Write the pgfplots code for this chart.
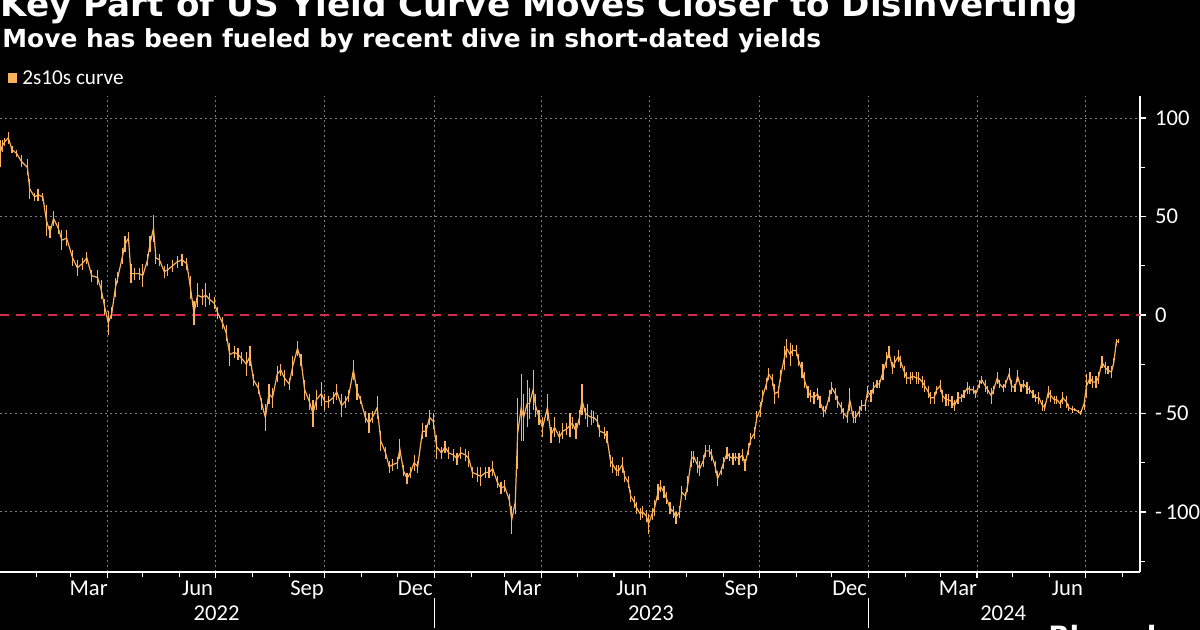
\documentclass[border=0pt]{standalone}
\usepackage{fontspec}
\setmainfont{Carlito}
\newfontfamily\headfont{DejaVu Sans}
\usepackage{pgfplots}
\usepackage{pgfplotstable}
\pgfplotsset{compat=1.18}

\definecolor{curve}{RGB}{252,178,92}
\definecolor{gridc}{RGB}{125,125,125}
\definecolor{zeroc}{RGB}{215,45,70}

% d = days since 1 Jan 2022, v = 2s10s spread (bp), e = half of the day's range
\pgfplotstableread{
d v e
0 82 7
2 86 3
4 88 2
7 90 3
10 84 2
14 82 2
18 78 3
23 75 4
25 64 5
29 60 2
32 61 3
36 60 2
39 48 8
42 42 3
45 49 4
49 44 3
52 38 5
56 39 4
61 29 4
65 24 4
69 26 3
73 29 3
77 20 3
82 19 4
85 13 5
88 4 4
91 -4 6
94 1 3
97 14 5
99 19 3
103 30 4
105 36 4
108 39 3
110 21 5
113 21 3
117 21 3
120 20 6
124 28 3
126 36 4
129 44 7
131 29 3
134 28 3
138 22 3
141 23 3
145 25 3
149 27 3
153 28 3
157 26 3
160 14 6
163 1 6
166 10 6
170 9 4
173 10 6
176 8 3
180 6 3
183 1 3
187 -4 3
190 -9 4
193 -20 6
197 -19 3
200 -20 3
203 -22 3
207 -25 6
210 -21 5
213 -33 3
217 -37 3
220 -45 3
223 -52 7
226 -40 5
229 -42 5
233 -30 4
236 -28 3
239 -32 4
243 -35 3
246 -26 5
250 -17 4
253 -23 3
256 -38 5
260 -44 4
263 -50 7
266 -43 5
270 -40 6
273 -44 4
276 -44 3
280 -42 3
283 -39 4
287 -46 6
290 -44 3
293 -41 3
297 -28 5
300 -39 4
303 -43 2
307 -52 3
310 -55 5
313 -52 3
317 -47 6
320 -64 5
324 -70 3
327 -77 3
330 -76 3
334 -75 3
336 -68 5
339 -79 3
342 -83 3
345 -80 3
348 -75 4
351 -77 3
355 -59 4
358 -59 3
361 -52 4
364 -54 4
367 -67 6
371 -70 3
374 -67 3
377 -70 3
381 -71 3
384 -73 3
387 -70 3
391 -71 3
394 -73 4
397 -80 3
401 -81 4
404 -82 5
408 -80 3
411 -80 3
414 -78 4
418 -85 3
421 -88 3
424 -87 3
428 -94 3
430 -104 7
433 -95 6
435 -60 18
438 -47 17
440 -52 12
443 -45 12
445 -45 8
448 -38 10
450 -46 6
453 -52 4
456 -57 5
460 -47 7
463 -61 4
466 -57 5
470 -62 3
473 -59 4
476 -58 3
479 -56 6
481 -55 3
484 -59 4
487 -52 4
489 -43 8
492 -50 3
494 -51 6
497 -52 4
499 -52 3
502 -54 3
504 -59 3
508 -60 3
510 -62 3
513 -74 3
515 -76 4
518 -79 3
520 -79 3
523 -76 4
525 -82 3
528 -85 3
530 -92 3
533 -95 3
535 -98 3
538 -101 3
540 -100 3
543 -102 3
545 -106 5
548 -101 3
550 -98 4
553 -90 4
555 -87 3
558 -90 3
560 -93 3
563 -98 3
566 -100 3
568 -103 3
571 -100 3
573 -90 3
576 -92 2
578 -86 4
581 -73 4
583 -72 3
586 -76 4
588 -78 4
591 -74 3
593 -69 3
596 -69 3
598 -71 3
601 -77 3
603 -83 4
606 -79 2
608 -75 3
611 -70 3
613 -72 2
616 -73 3
618 -72 2
621 -73 3
624 -71 3
626 -76 3
629 -68 3
631 -63 3
634 -60 3
636 -52 3
639 -48 4
641 -41 3
644 -35 3
646 -30 3
649 -33 3
651 -40 5
654 -39 3
656 -31 3
659 -22 6
661 -17 5
664 -20 6
666 -18 3
669 -18 3
671 -23 3
674 -28 4
676 -33 4
679 -39 3
681 -41 3
684 -42 3
687 -40 3
689 -44 3
692 -49 3
694 -48 2
697 -41 3
699 -37 3
702 -40 3
704 -44 3
707 -47 3
709 -50 3
712 -52 3
714 -43 6
717 -52 3
719 -52 3
722 -49 3
724 -46 3
727 -46 3
729 -39 3
732 -41 3
734 -37 3
737 -35 2
739 -35 2
742 -29 4
745 -23 4
747 -19 3
750 -27 3
752 -24 3
755 -21 3
757 -24 3
760 -29 3
762 -32 3
765 -32 3
767 -31 2
770 -32 3
772 -32 3
775 -34 3
777 -36 3
780 -39 3
782 -42 3
785 -42 3
787 -38 2
790 -36 3
792 -41 3
795 -43 3
797 -43 3
800 -44 3
802 -46 3
805 -42 3
808 -42 2
810 -40 2
813 -37 3
815 -38 2
818 -38 2
820 -40 2
823 -35 2
825 -33 2
828 -36 3
830 -38 2
833 -41 4
835 -38 2
838 -32 3
840 -35 2
843 -37 2
845 -35 2
848 -30 3
850 -36 3
853 -37 2
855 -31 3
858 -37 2
860 -35 2
863 -37 3
865 -38 2
868 -40 2
870 -42 2
873 -42 3
876 -46 3
878 -47 2
881 -39 3
883 -41 3
886 -43 2
888 -43 2
891 -45 2
893 -42 3
896 -44 3
898 -47 2
901 -48 2
903 -48 1
906 -49 1
908 -50 1
911 -45 3
913 -36 6
916 -32 3
918 -34 3
921 -34 3
923 -32 3
926 -24 3
929 -27 3
931 -28 2
934 -29 3
936 -24 2
938 -14 2
940 -13 1
}\curvetable

\begin{document}
\begin{tikzpicture}
\fill[black] (0pt,0pt) rectangle (600pt,315pt);
\useasboundingbox (0pt,0pt) rectangle (600pt,315pt);

\node[anchor=base west, inner sep=0pt, text=white, font=\headfont\bfseries\fontsize{17.1}{20}\selectfont]
  at (0pt,306.5pt) {Key Part of US Yield Curve Moves Closer to Disinverting};
\node[anchor=base west, inner sep=0pt, text=white, font=\headfont\bfseries\fontsize{12.45}{14}\selectfont]
  at (1pt,291pt) {Move has been fueled by recent dive in short-dated yields};
\fill[curve] (4pt,273.5pt) rectangle (8.5pt,278.5pt);
\node[anchor=base west, inner sep=0pt, text=white, font=\fontsize{10.6}{12}\selectfont]
  at (11pt,272.5pt) {2s10s curve};

\begin{axis}[
  at={(0pt,29pt)}, anchor=south west,
  scale only axis, width=570pt, height=238pt,
  xmin=0, xmax=958, ymin=-130.5, ymax=111.2,
  axis x line*=bottom, axis y line*=right,
  axis line style={white, line width=0.7pt},
  tick align=outside,
  tick style={white, line width=0.6pt},
  major tick length=3pt, minor tick length=2.5pt,
  xtick={90,181,273,365,455,546,638,730,821,912},
  minor xtick={31,59,120,151,212,243,304,334,396,424,485,516,577,608,669,699,761,790,851,882,943},
  xticklabels={},
  extra x ticks={74.5,166,258,349,439,531,623,714,805,897},
  extra x tick labels={Mar,Jun,Sep,Dec,Mar,Jun,Sep,Dec,Mar,Jun},
  extra x tick style={grid=none, major tick length=0pt},
  ytick={-100,-50,0,50,100},
  yticklabels={{-\,100},{-\,50},0,50,100},
  minor ytick={-125,-75,-25,25,75},
  xmajorgrids, ymajorgrids,
  major grid style={gridc, line width=0.5pt, dash pattern=on 1pt off 1.5pt},
  ticklabel style={text=white, font=\fontsize{11.3}{13}\selectfont},
  yticklabel style={anchor=west, xshift=1pt},
  xticklabel style={yshift=-1pt},
  clip=false,
]
\draw[black, line width=1.4pt] (axis cs:0,0) -- (axis cs:958,0);
\draw[zeroc, line width=1pt, dash pattern=on 4.5pt off 3.5pt] (axis cs:0,0) -- (axis cs:958,0);
\addplot[curve, line width=0.6pt, mark=none,
  error bars/.cd, y dir=both, y explicit,
  error bar style={curve, line width=0.6pt}, error mark=none]
  table[x=d, y=v, y error=e] {\curvetable};

\node[text=white, font=\fontsize{11.3}{13}\selectfont] at (axis cs:182,-130.5) [yshift=-20.5pt] {2022};
\node[text=white, font=\fontsize{11.3}{13}\selectfont] at (axis cs:547,-130.5) [yshift=-20.5pt] {2023};
\node[text=white, font=\fontsize{11.3}{13}\selectfont] at (axis cs:843,-130.5) [yshift=-20.5pt] {2024};
\draw[white, line width=0.4pt] ([yshift=-13pt]axis cs:365,-130.5) -- ([yshift=-28pt]axis cs:365,-130.5);
\draw[white, line width=0.4pt] ([yshift=-13pt]axis cs:730,-130.5) -- ([yshift=-28pt]axis cs:730,-130.5);
\end{axis}

\node[anchor=north west, inner sep=0pt, text=white, font=\headfont\bfseries\fontsize{14}{16}\selectfont]
  at (524pt,2.5pt) {Bloomberg};
\end{tikzpicture}
\end{document}
